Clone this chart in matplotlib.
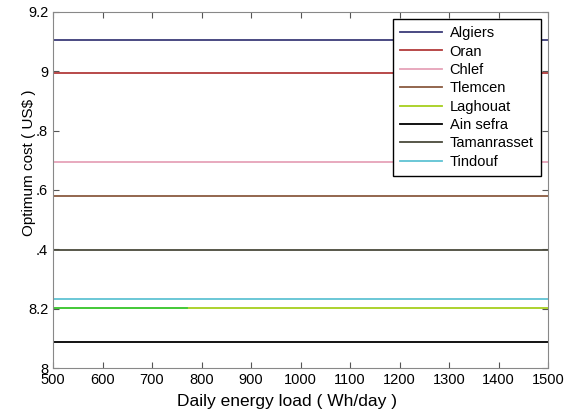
import numpy as np
import matplotlib.pyplot as plt

plt.rcParams['font.family'] = ['Liberation Sans', 'DejaVu Sans']

# daily load range (Wh/day) and optimum cost per site (US$)
load = [500, 1500]
cities = ['Algiers', 'Oran', 'Chlef', 'Tlemcen', 'Laghouat', 'Ain sefra', 'Tamanrasset', 'Tindouf']
costs = [9.105, 8.995, 8.693, 8.580, 8.203, 8.090, 8.397, 8.233]
colors = ['#3b3b78', '#b23a3a', '#e6a3b9', '#8a5a40', '#a6cf1e', '#000000', '#4a4a3c', '#5fc3d3']

# short green stretch visible on the Laghouat line
green_x = [500, 770]
green_y = 8.203

yticks = [8, 8.2, 8.4, 8.6, 8.8, 9, 9.2]
ytick_labels = ['8', '8.2', '.4', '.6', '.8', '9', '9.2']
xticks = np.arange(500, 1501, 100)

fig = plt.figure(figsize=(5.64, 4.13), dpi=100)
ax = fig.add_axes([0.094, 0.108, 0.878, 0.864])

for name, c, col in zip(cities, costs, colors):
    ax.plot(load, [c, c], color=col, linewidth=1.3, label=name)
ax.plot(green_x, [green_y, green_y], color='#3cc83c', linewidth=1.3)

ax.set_xlim(500, 1500)
ax.set_ylim(8, 9.2)
ax.set_xticks(xticks)
ax.set_yticks(yticks)
ax.set_yticklabels(ytick_labels)
ax.tick_params(direction='in', top=True, right=True, labelsize=10.5, length=4, color='#555555')
for s in ax.spines.values():
    s.set_color('#888888')

ax.set_xlabel('Daily energy load ( Wh/day )', fontsize=12.5)
ax.set_ylabel('Optimum cost ( US$ )', fontsize=11)
ax.xaxis.set_label_coords(0.472, -0.072)
ax.yaxis.set_label_coords(-0.034, 0.577)

leg = ax.legend(loc='upper right', fontsize=10.5, fancybox=False, framealpha=1,
                edgecolor='black', borderaxespad=0.5, handlelength=2.9,
                handletextpad=0.5, labelspacing=0.3, borderpad=0.5)
leg.get_frame().set_linewidth(1.0)

fig.savefig('out.png', dpi=100)
